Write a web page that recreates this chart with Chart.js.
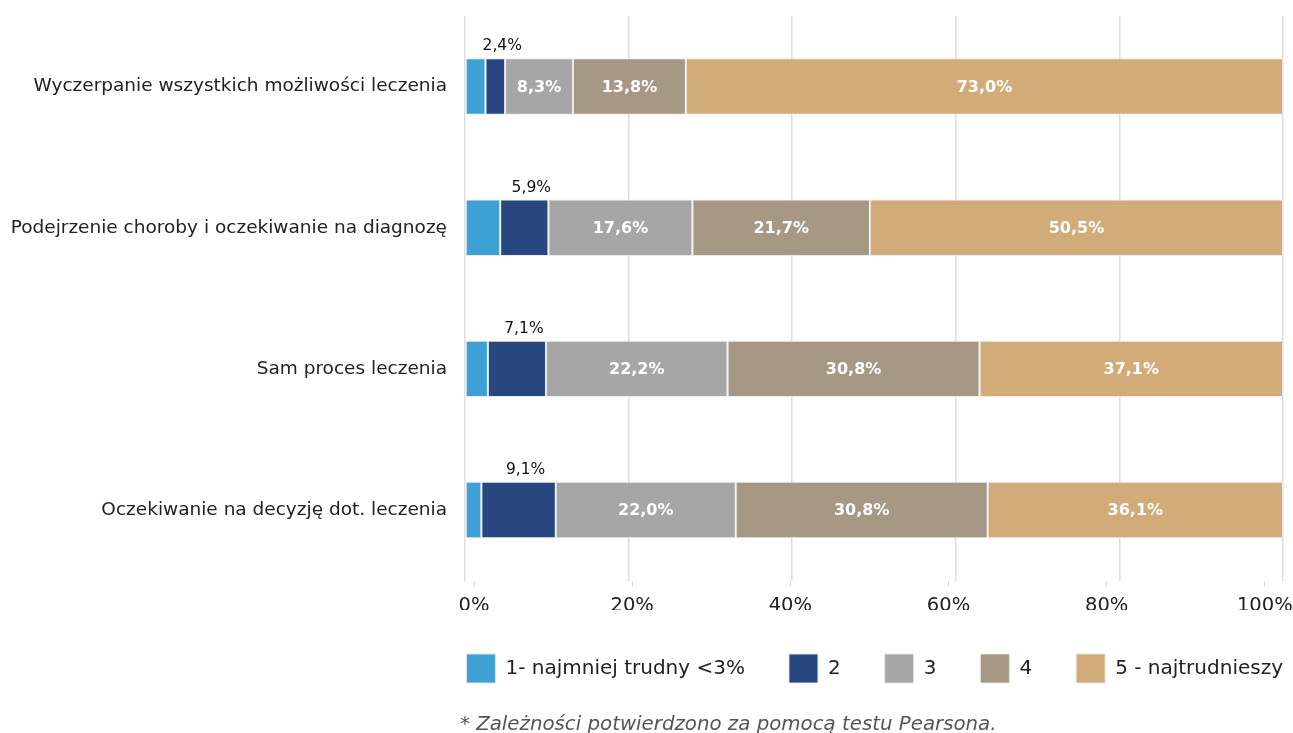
<!DOCTYPE html>
<html><head><meta charset="utf-8">
<script src="https://cdn.jsdelivr.net/npm/chart.js@4.4.1/dist/chart.umd.min.js"></script>
<style>
html,body{margin:0;padding:0;background:#fff;overflow:hidden;}
#wrap{position:relative;width:1293px;height:733px;overflow:hidden;}
#note{position:absolute;left:460px;top:714px;font:italic 19.8px/20px 'DejaVu Sans',sans-serif;color:#555;white-space:nowrap;}
</style></head>
<body><div id="wrap"><canvas id="c" width="1293" height="733"></canvas>
<div id="note">* Zależności potwierdzono za pomocą testu Pearsona.</div></div>
<script>
const categories = [
  "Wyczerpanie wszystkich możliwości leczenia",
  "Podejrzenie choroby i oczekiwanie na diagnozę",
  "Sam proces leczenia",
  "Oczekiwanie na decyzję dot. leczenia"
];
const seriesNames = ["1- najmniej trudny <3%", "2", "3", "4", "5 - najtrudnieszy"];
const s1 = [2.5, 4.3, 2.8, 2.0];
const s2 = [2.4, 5.9, 7.1, 9.1];
const s3 = [8.3, 17.6, 22.2, 22.0];
const s4 = [13.8, 21.7, 30.8, 30.8];
const s5 = [73.0, 50.5, 37.1, 36.1];
const xTicks = [0, 20, 40, 60, 80, 100];
const colors = ["#3FA0D6", "#284680", "#A6A6A6", "#A69884", "#D1AC79"];

const FONT = "'DejaVu Sans', sans-serif";
const fmt = v => v.toFixed(1).replace('.', ',') + '%';

const labelPlugin = {
  id: 'segLabels',
  afterDatasetsDraw(chart) {
    const ctx = chart.ctx;
    ctx.save();
    chart.data.datasets.forEach((ds, di) => {
      if (di === 0) return;
      const meta = chart.getDatasetMeta(di);
      meta.data.forEach((el, i) => {
        const v = ds.data[i];
        const cx = (el.x + el.base) / 2;
        ctx.textAlign = "center";
        ctx.textBaseline = "middle";
        if (di === 1) {
          ctx.font = "15.5px " + FONT;
          ctx.fillStyle = "#111";
          ctx.fillText(fmt(v), cx + 7, el.y - el.height / 2 - 12);
        } else {
          ctx.font = "bold 16px " + FONT;
          ctx.fillStyle = "#fff";
          ctx.fillText(fmt(v), cx, el.y + 1);
        }
      });
    });
    ctx.restore();
  }
};

const legendShift = {
  id: 'legendShift',
  afterLayout(chart) {
    const lg = chart.legend;
    if (lg) { const d = lg.options.labels.padding; lg.left += d; lg.right += d; }
  }
};

const series = [s1, s2, s3, s4, s5];
new Chart(document.getElementById('c'), {
  type: 'bar',
  data: {
    labels: categories,
    datasets: series.map((d, i) => ({
      label: seriesNames[i],
      data: d,
      backgroundColor: colors[i],
      borderColor: "rgba(232,232,232,0.9)",
      borderWidth: 1,
      borderSkipped: false,
      categoryPercentage: 0.5,
      barPercentage: 0.8
    }))
  },
  options: {
    indexAxis: 'y',
    responsive: false,
    animation: false,
    layout: { padding: { left: 10, right: 10, top: 16, bottom: 40 } },
    plugins: {
      tooltip: { enabled: false },
      legend: {
        position: 'bottom',
        align: 'end',
        labels: {
          boxWidth: 29, boxHeight: 29, padding: 44,
          color: "#222",
          font: { size: 20, family: FONT }
        }
      }
    },
    scales: {
      x: {
        stacked: true, min: 0, max: 100,
        grid: { color: "#dedede", lineWidth: 1.5, drawTicks: false },
        border: { display: false },
        ticks: { display: false, stepSize: 20 }
      },
      x2: {
        axis: 'x', position: 'bottom',
        min: -1.14, max: 102.3,
        afterBuildTicks: s => { s.ticks = xTicks.map(v => ({ value: v })); },
        afterFit: s => { s.height -= 16; s.paddingLeft = 0; s.paddingRight = 0; },
        grid: { drawOnChartArea: false, drawTicks: true, tickLength: 6, color: "#d8d8d8" },
        border: { display: false },
        ticks: { color: "#222", padding: 8, font: { size: 19.5, family: FONT }, callback: v => v + '%' }
      },
      y: {
        stacked: true,
        grid: { display: false, drawTicks: false },
        border: { display: false },
        afterFit: s => { s.width = 455; s.paddingTop = 0; s.paddingBottom = 0; },
        ticks: { color: "#222", padding: 18, font: { size: 18.5, family: FONT } }
      }
    }
  },
  plugins: [labelPlugin, legendShift]
});
</script>
</body></html>
